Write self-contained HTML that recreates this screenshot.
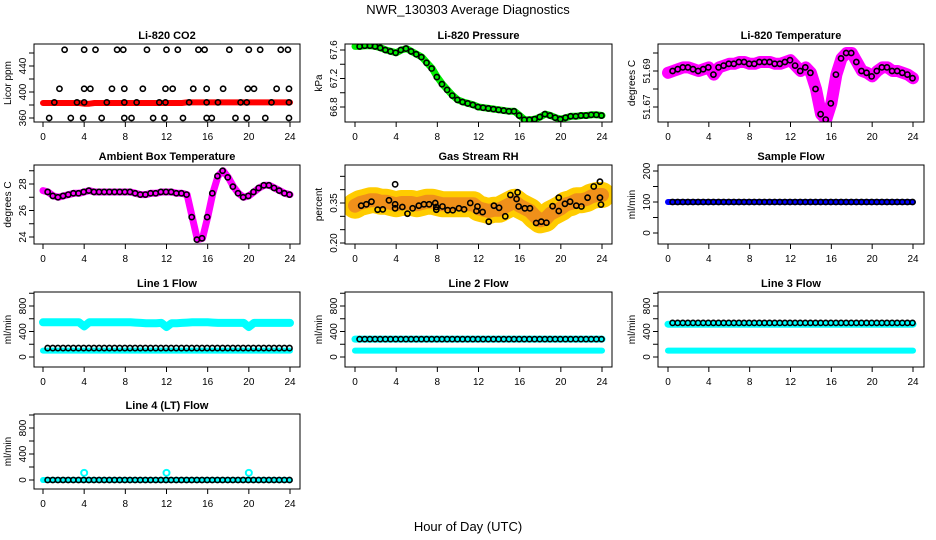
<!DOCTYPE html>
<html><head><meta charset="utf-8"><style>
html,body{margin:0;padding:0;background:#fff}
svg{display:block;font-family:"Liberation Sans",sans-serif}
</style></head><body>
<svg id="c" width="936" height="540" viewBox="0 0 936 540" xmlns="http://www.w3.org/2000/svg">
<text x="468" y="14" font-size="13" text-anchor="middle">NWR_130303  Average Diagnostics</text>
<text x="468" y="531" font-size="13" text-anchor="middle">Hour of Day (UTC)</text>
</svg>
<script>
// ---- data (dense series at 0.5 h resolution, hours 0..24) ----
const halfHours = [0,0.5,1,1.5,2,2.5,3,3.5,4,4.5,5,5.5,6,6.5,7,7.5,8,8.5,9,9.5,10,10.5,11,11.5,12,12.5,13,13.5,14,14.5,15,15.5,16,16.5,17,17.5,18,18.5,19,19.5,20,20.5,21,21.5,22,22.5,23,23.5,24];
const co2Red = [383,383,383,383,383,383,383,383,382,382,383,383,383,383,383,383,383,383,383,383,383,383,383,383,383,383,383,383,384,384,384,384,384,384,384,384,384,384,384,384,384,384,384,384,384,384,384,384,384];
const co2Hours = [2.1,4,5.1,7.2,7.8,10.1,12,13.1,15.1,15.7,18.1,20,21.1,23.1,23.8, 1.6,4,4.6,6.7,7.9,9.7,11.9,12.6,14.6,15.9,17.5,19.9,20.5,22.7,23.9, 1.1,3.3,4,6.2,7.9,9.1,11.3,11.9,14.2,15.9,17,19.2,19.8,22.2,23.9, 0.6,2.7,3.9,5.7,7.9,8.6,10.7,11.8,13.6,15.9,16.4,18.7,19.8,21.6,23.9];
const co2Values = [465,465,465,465,465,465,465,465,465,465,465,465,465,465,465, 405,405,405,405,405,405,405,405,405,405,405,405,405,405,405, 384,384,384,384,384,384,384,384,384,384,384,384,384,384,384, 360,360,360,360,360,360,360,360,360,360,360,360,360,360,360];
const pressure = [67.65,67.65,67.66,67.66,67.65,67.63,67.6,67.58,67.56,67.6,67.62,67.58,67.54,67.5,67.42,67.34,67.22,67.12,67.04,66.96,66.9,66.87,66.85,66.83,66.8,66.79,66.78,66.77,66.76,66.75,66.74,66.74,66.68,66.62,66.62,66.63,66.66,66.7,66.68,66.65,66.63,66.65,66.67,66.67,66.68,66.68,66.69,66.69,66.68];
const liTemp = [51.689,51.69,51.691,51.692,51.692,51.691,51.69,51.691,51.692,51.688,51.692,51.693,51.694,51.694,51.695,51.695,51.694,51.694,51.695,51.695,51.695,51.694,51.694,51.695,51.696,51.693,51.69,51.692,51.689,51.68,51.666,51.663,51.672,51.688,51.697,51.7,51.7,51.695,51.69,51.689,51.687,51.69,51.692,51.692,51.69,51.69,51.689,51.688,51.686];
const ambTemp = [27.5,27.4,27.1,27.0,27.1,27.2,27.3,27.3,27.4,27.5,27.4,27.4,27.4,27.4,27.4,27.4,27.4,27.4,27.3,27.2,27.2,27.3,27.3,27.4,27.4,27.4,27.3,27.3,27.2,25.5,23.8,23.9,25.5,27.3,28.6,29.0,28.5,27.8,27.3,27.0,27.1,27.4,27.7,27.9,27.9,27.7,27.5,27.3,27.2];
const rhBand = [0.34,0.35,0.355,0.36,0.36,0.355,0.355,0.35,0.345,0.35,0.35,0.35,0.345,0.35,0.355,0.355,0.35,0.345,0.345,0.345,0.345,0.345,0.345,0.345,0.33,0.325,0.32,0.325,0.325,0.335,0.345,0.355,0.34,0.33,0.32,0.3,0.285,0.29,0.31,0.32,0.33,0.345,0.35,0.36,0.36,0.365,0.375,0.38,0.38];
const rhHours = [0.6,1.1,1.6,2.2,2.7,3.3,3.9,3.9,3.9,4.6,5.1,5.6,6.2,6.7,7.2,7.8,7.9,7.9,8.5,9.0,9.5,10.1,10.6,11.2,11.8,11.9,12.4,13.0,13.5,14.0,14.6,15.1,15.7,15.8,15.9,16.5,17.0,17.6,18.1,18.6,19.2,19.8,19.8,20.4,20.9,21.5,22.0,22.6,23.2,23.8,23.9,23.8];
const rhValues = [0.34,0.345,0.355,0.325,0.326,0.36,0.33,0.345,0.42,0.335,0.31,0.33,0.34,0.345,0.345,0.35,0.335,0.325,0.337,0.323,0.323,0.33,0.326,0.35,0.32,0.337,0.316,0.28,0.34,0.332,0.3,0.38,0.365,0.39,0.337,0.33,0.33,0.275,0.28,0.276,0.338,0.32,0.37,0.347,0.355,0.34,0.337,0.37,0.412,0.43,0.344,0.37];
const sampleFlow = 100;
const line1Upper = [545,545,545,545,545,545,545,545,480,545,545,545,545,545,545,545,545,545,540,535,530,530,530,535,470,530,530,535,540,545,545,545,545,540,535,535,535,535,535,535,470,535,535,535,535,535,535,535,535];
const line1Lower = 100, line1Black = 140;
const line2Cyan = 280, line2Lower = 100, line2Black = 280;
const line3Cyan = 515, line3Lower = 100, line3Black = 535;
const line4Cyan = 0, line4Black = 0, line4Spikes = [4,12,20], line4SpikeValue = 110;

const svg = document.getElementById('c');
const NS = 'http://www.w3.org/2000/svg';
function mk(tag, attrs, parent){const e=document.createElementNS(NS,tag);for(const k in attrs)e.setAttribute(k,attrs[k]);(parent||svg).appendChild(e);return e;}

const cols=[{L:34,R:300,x0:43,x24:290},{L:345,R:612,x0:355,x24:602},{L:658,R:924,x0:668,x24:913}];
const rows=[{T:44,B:122},{T:165,B:244},{T:292,B:367},{T:414,B:489}];

function panel(name,title,ylab,c,r,v1,y1off,v2,y2off,ticks,labels,fmt){
  const col=cols[c],row=rows[r];
  const g=mk('g',{});
  
  
  const xs=h=>col.x0+(col.x24-col.x0)*h/24;
  const y1=row.T+y1off,y2=row.T+y2off;
  const ys=v=>y1+(v-v1)*(y2-y1)/(v2-v1);
  const clip=mk('clipPath',{id:'cl'+name},g);
  mk('rect',{x:col.L,y:row.T,width:col.R-col.L,height:row.B-row.T},clip);
  const plot=mk('g',{'clip-path':'url(#cl'+name+')'},g);
  
  
  const box=mk('rect',{x:col.L,y:row.T,width:col.R-col.L,height:row.B-row.T,fill:'none',stroke:'#000','stroke-width':1},g);
  
  
  const t=mk('text',{x:(col.L+col.R)/2,y:row.T-5,'font-size':11,'font-weight':'bold','text-anchor':'middle'},g);
  t.textContent=title;
  
  
  const yl=mk('text',{transform:`translate(${col.L-23},${(row.T+row.B)/2}) rotate(-90)`,'font-size':10,'text-anchor':'middle'},g);
  yl.textContent=ylab;
  
  
  for(let h=0;h<=24;h+=4){
    const x=xs(h);
    const tk=mk('line',{x1:x,x2:x,y1:row.B,y2:row.B+5,stroke:'#000'},g);
    
    
    const tl=mk('text',{x:x,y:row.B+18,'font-size':10,'text-anchor':'middle'},g);
    tl.textContent=h;
    
    
  }
  ticks.forEach(v=>{
    const y=ys(v); if(y<row.T-1||y>row.B+1) return;
    const tk=mk('line',{x1:col.L-5,x2:col.L,y1:y,y2:y,stroke:'#000'},g);
    
    
  });
  labels.forEach(v=>{
    const y=ys(v);
    const tl=mk('text',{transform:`translate(${col.L-8},${y}) rotate(-90)`,'font-size':10,'text-anchor':'middle'},g);
    tl.textContent=fmt?fmt(v):v;
    
    
  });
  return {plot,xs,ys};
}
function band(p,name,hours,vals,color,w){
  const pts=hours.map((h,i)=>p.xs(h).toFixed(1)+','+p.ys(vals[i]).toFixed(1)).join(' ');
  const pl=mk('polyline',{points:pts,fill:'none',stroke:color,'stroke-width':w,'stroke-linejoin':'round','stroke-linecap':'round'},p.plot);
  
  
}
function dots(p,name,hours,vals,color,r,sw){
  hours.forEach((h,i)=>{
    const c=mk('circle',{cx:p.xs(h),cy:p.ys(vals[i]),r:r,fill:'none',stroke:color,'stroke-width':sw},p.plot);
    
    
  });
}
const blackHours=halfHours.slice(1).map(h=>h-0.05);
const idx=h=>halfHours.map(()=>h);

// CO2
let p=panel('co2','Li-820 CO2','Licor ppm',0,0,360,74,440,22,[360,380,400,420,440,460],[360,400,440]);
band(p,'co2-series',halfHours,co2Red,'#ff0000',6);
dots(p,'co2-average-point',co2Hours,co2Values,'#000',2.6,1.6);
// Pressure
p=panel('pressure','Li-820 Pressure','kPa',1,0,67.6,6,66.8,63,[66.8,67.0,67.2,67.4,67.6],[66.8,67.2,67.6],v=>v.toFixed(1));
band(p,'pressure-series',halfHours,pressure,'#00ee00',7);
dots(p,'pressure-average-point',blackHours,pressure.slice(1),'#000',2.6,1.6);
// Li temp
p=panel('li-temp','Li-820 Temperature','degrees C',2,0,51.69,27,51.67,63,[51.66,51.67,51.68,51.69,51.70],[51.67,51.69],v=>v.toFixed(2));
band(p,'li-temp-series',halfHours,liTemp,'#ff00ff',12);
dots(p,'li-temp-average-point',blackHours,liTemp.slice(1),'#000',2.6,1.6);
// Ambient
p=panel('ambient','Ambient Box Temperature','degrees C',0,1,28,19,24,72,[24,25,26,27,28,29],[24,26,28]);
band(p,'ambient-series',halfHours,ambTemp,'#ff00ff',7);
dots(p,'ambient-average-point',blackHours,ambTemp.slice(1),'#000',2.6,1.6);
// RH
p=panel('rh','Gas Stream RH','percent',1,1,0.35,38,0.20,78,[0.20,0.25,0.30,0.35,0.40,0.45],[0.20,0.35],v=>v.toFixed(2));
band(p,'rh-series-outer',halfHours,rhBand,'#ffcc00',26);
band(p,'rh-series-inner',halfHours,rhBand,'#f0901a',14);
dots(p,'rh-average-point',rhHours,rhValues,'#000',2.6,1.6);
// Sample flow
p=panel('sample-flow','Sample Flow','ml/min',2,1,200,6,0,68,[0,50,100,150,200],[0,100,200]);
band(p,'sample-flow-series',halfHours,idx(sampleFlow),'#0000ff',6);
dots(p,'sample-flow-average-point',blackHours,idx(sampleFlow).slice(1),'#000',2.6,1.6);
// Line flows
const flowTicks=[0,200,400,600,800,1000],flowLabels=[0,400,800];
p=panel('line1','Line 1 Flow','ml/min',0,2,0,65,800,14,flowTicks,flowLabels);
band(p,'line1-upper-series',halfHours,line1Upper,'#00ffff',8);
band(p,'line1-lower-series',halfHours,idx(line1Lower),'#00ffff',6);
dots(p,'line1-average-point',blackHours,idx(line1Black).slice(1),'#000',2.6,1.6);
p=panel('line2','Line 2 Flow','ml/min',1,2,0,65,800,14,flowTicks,flowLabels);
band(p,'line2-upper-series',halfHours,idx(line2Cyan),'#00ffff',7);
band(p,'line2-lower-series',halfHours,idx(line2Lower),'#00ffff',6);
dots(p,'line2-average-point',blackHours,idx(line2Black).slice(1),'#000',2.6,1.6);
p=panel('line3','Line 3 Flow','ml/min',2,2,0,65,800,14,flowTicks,flowLabels);
band(p,'line3-upper-series',halfHours,idx(line3Cyan),'#00ffff',7);
band(p,'line3-lower-series',halfHours,idx(line3Lower),'#00ffff',6);
dots(p,'line3-average-point',blackHours,idx(line3Black).slice(1),'#000',2.6,1.6);
p=panel('line4','Line 4 (LT) Flow','ml/min',0,3,0,66,800,14,flowTicks,flowLabels);
band(p,'line4-series',halfHours,idx(line4Cyan),'#00ffff',6);
dots(p,'line4-spike-point',line4Spikes,line4Spikes.map(()=>line4SpikeValue),'#00ffff',3,2);
dots(p,'line4-average-point',blackHours,idx(line4Black).slice(1),'#000',2.6,1.6);
</script>
</body></html>
